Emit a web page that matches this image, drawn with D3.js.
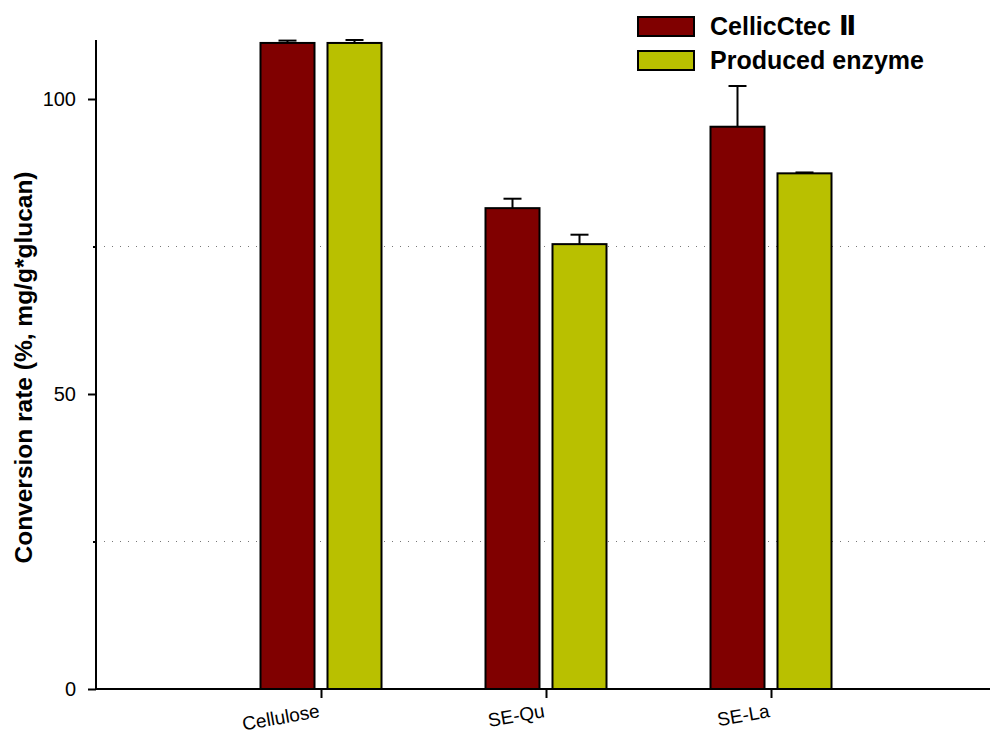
<!DOCTYPE html>
<html>
<head>
<meta charset="utf-8">
<script src="https://cdn.jsdelivr.net/npm/d3@7"></script>
<style>
  body { margin: 0; background: #fff; }
  text { font-family: "Liberation Sans", Arial, sans-serif; }
</style>
</head>
<body>
<div id="graph"></div>
<script>
var categories = ['Cellulose', 'SE-Qu', 'SE-La']
var seriesNames = ['CellicCtec', 'Produced enzyme']
var seriesSuffix = ['Ⅱ', '']
var cellic = [109.5, 81.5, 95.3]
var cellicErr = [0.4, 1.6, 6.9]
var produced = [109.5, 75.4, 87.4]
var producedErr = [0.5, 1.6, 0.15]
var majorTicks = [0, 50, 100]
var minorTicks = [25, 75]
var colors = ['#800000', '#b9c000']

var width = 991, height = 733
var mLeft = 96, mTop = 40, mRight = 990, mBottom = 689
var font = '"Liberation Sans", Arial, sans-serif'

var svg = d3.select('#graph').append('svg')
  .attr('width', width).attr('height', height)

var x = d3.scalePoint().domain(categories).range([mLeft, mLeft + 900]).padding(1)
var y = d3.scaleLinear().domain([0, 110]).range([mBottom, mTop])

// dotted grid at minor ticks
svg.selectAll('line.grid').data(minorTicks).enter().append('line')
  .attr('x1', mLeft).attr('x2', mRight)
  .attr('y1', d => y(d)).attr('y2', d => y(d))
  .attr('stroke', '#777').attr('stroke-width', 1)
  .attr('stroke-dasharray', '1,7')

var series = [
  {name: seriesNames[0], suf: seriesSuffix[0], vals: cellic, err: cellicErr, dx: -60.5, color: colors[0]},
  {name: seriesNames[1], suf: seriesSuffix[1], vals: produced, err: producedErr, dx: 6.5, color: colors[1]}
]
var barW = 54

series.forEach(s => {
  var g = svg.append('g')
  var rows = categories.map((c, i) => ({c, v: s.vals[i], e: s.err[i]}))
  // error bars (upper half only; bar covers the rest)
  g.selectAll('line.err').data(rows).enter().append('line')
    .attr('x1', d => x(d.c) + s.dx + barW/2).attr('x2', d => x(d.c) + s.dx + barW/2)
    .attr('y1', d => y(d.v)).attr('y2', d => y(d.v + d.e))
    .attr('stroke', '#000').attr('stroke-width', 2)
  g.selectAll('line.cap').data(rows).enter().append('line')
    .attr('x1', d => x(d.c) + s.dx + barW/2 - 9).attr('x2', d => x(d.c) + s.dx + barW/2 + 9)
    .attr('y1', d => y(d.v + d.e)).attr('y2', d => y(d.v + d.e))
    .attr('stroke', '#000').attr('stroke-width', 2)
  g.selectAll('rect').data(rows).enter().append('rect')
    .attr('x', d => x(d.c) + s.dx).attr('width', barW)
    .attr('y', d => y(d.v)).attr('height', d => y(0) - y(d.v))
    .attr('fill', s.color).attr('stroke', '#000').attr('stroke-width', 2)
})

// y axis
var yAxis = svg.append('g').attr('transform', `translate(${mLeft},0)`)
  .call(d3.axisLeft(y).tickValues(majorTicks).tickSize(8).tickPadding(12))
yAxis.select('.domain').attr('d', `M0,${mBottom}V${mTop}`).attr('stroke-width', 2)
yAxis.selectAll('.tick line').attr('stroke-width', 2)
yAxis.selectAll('.tick text').attr('font-size', 20).attr('font-family', font).attr('fill', '#000')
svg.append('g').attr('transform', `translate(${mLeft},0)`)
  .call(d3.axisLeft(y).tickValues(minorTicks).tickSize(3).tickFormat(''))
  .call(g => g.select('.domain').remove())
  .selectAll('.tick line').attr('stroke-width', 2)

// x axis
var xAxis = svg.append('g').attr('transform', `translate(0,${mBottom})`)
  .call(d3.axisBottom(x).tickSize(9).tickPadding(0))
xAxis.select('.domain').attr('d', `M${mLeft},0H${mRight}`).attr('stroke-width', 2)
xAxis.selectAll('.tick line').attr('stroke-width', 2)
xAxis.selectAll('.tick text')
  .attr('font-size', 19).attr('font-family', font).attr('fill', '#000')
  .attr('text-anchor', 'end').attr('y', 0).attr('dy', 0)
  .attr('transform', 'translate(-1,28) rotate(-10)')

// y label
svg.append('text')
  .attr('transform', `translate(32,${(mTop + mBottom)/2 + 3}) rotate(-90)`)
  .attr('text-anchor', 'middle')
  .attr('font-size', 24.5).attr('font-weight', 'bold')
  .text('Conversion rate (%, mg/g*glucan)')

// legend
var leg = svg.append('g').attr('transform', 'translate(638,17)')
var items = leg.selectAll('g').data(series).enter().append('g')
  .attr('transform', (d, i) => `translate(0,${i*34})`)
items.append('rect').attr('width', 56).attr('height', 19)
  .attr('fill', d => d.color).attr('stroke', '#000').attr('stroke-width', 2)
var lt = items.append('text').attr('x', 72).attr('y', 18)
  .attr('font-size', 25).attr('font-weight', 'bold')
lt.append('tspan').text(d => d.name)
lt.append('tspan').attr('dx', 8).attr('font-family', '"DejaVu Sans"').attr('font-size', 26)
  .text(d => d.suf)
</script>
</body>
</html>
